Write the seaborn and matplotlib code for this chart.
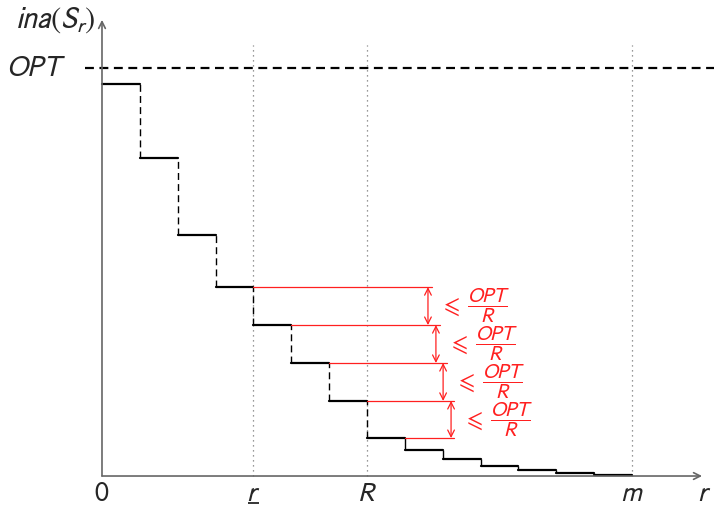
import numpy as np
import pandas as pd
import seaborn as sns
import matplotlib.pyplot as plt

# step heights of ina(S_r), OPT normalised to 1
step_levels = [0.961, 0.779, 0.591, 0.463, 0.370, 0.277, 0.184, 0.093,
               0.064, 0.042, 0.025, 0.015, 0.007, 0.002]
opt_level = 1.0
r_low, r_big, m_end = 4, 7, 14
tick_pos = [0, r_low, r_big, m_end]
tick_text = ['$0$', '$r$', '$R$', '$m$']

# red bound annotations (levels index 3..7)
bound_idx = [3, 4, 5, 6]
arrow_x = [8.61, 8.82, 9.01, 9.22]
red_end = [8.72, 8.93, 9.11, 9.30, 9.30]

sns.set_theme(style="white")
plt.rcParams['mathtext.fontset'] = 'stixsans'
plt.rcParams['font.family'] = ['DejaVu Sans']

fig = plt.figure(figsize=(7.14, 5.08), dpi=100)
ax = fig.add_axes([0, 0, 1, 1])
ax.set_xlim(-2.694, 16.165)
ax.set_ylim(-0.0784, 1.1667)
ax.axis('off')

# axes with arrows
grey = '#666666'
ax.annotate('', xy=(15.85, 0), xytext=(0, 0),
            arrowprops=dict(arrowstyle='->', color=grey, lw=1.2, shrinkA=0, shrinkB=0))
ax.annotate('', xy=(0, 1.118), xytext=(0, 0),
            arrowprops=dict(arrowstyle='->', color=grey, lw=1.2, shrinkA=0, shrinkB=0))

# dotted guides
ax.vlines([r_low, r_big, m_end], 0, 1.056, colors='#777777', linestyles=(0, (1, 3)), lw=0.9)

# OPT dashed line
ax.hlines(opt_level, -0.45, 16.2, colors='black', linestyles=(0, (4, 2.5)), lw=1.6)

# horizontal steps
n = len(step_levels)
df_steps = pd.DataFrame({
    'x': np.repeat(np.arange(n), 2) + np.tile([0, 1], n),
    'y': np.repeat(step_levels, 2),
    'seg': np.repeat(np.arange(n), 2),
})
sns.lineplot(data=df_steps, x='x', y='y', units='seg', estimator=None,
             color='black', lw=1.6, ax=ax, legend=False)

# vertical connectors
for k in range(1, n):
    ls = (0, (5, 3)) if k <= r_big else '-'
    ax.vlines(k, step_levels[k], step_levels[k - 1], colors='black',
              linestyles=ls, lw=1.0)

# red horizontal lines
red_rows = []
for j, k in enumerate(range(3, 8)):
    red_rows += [(k + 1, step_levels[k], j), (red_end[j], step_levels[k], j)]
df_red = pd.DataFrame(red_rows, columns=['x', 'y', 'seg'])
sns.lineplot(data=df_red, x='x', y='y', units='seg', estimator=None,
             color='#ff2020', lw=0.9, ax=ax, legend=False)

# red arrows and labels
for xa, k in zip(arrow_x, bound_idx):
    ax.annotate('', xy=(xa, step_levels[k + 1]), xytext=(xa, step_levels[k]),
                arrowprops=dict(arrowstyle='<->', color='#ff2020', lw=0.9,
                                shrinkA=0, shrinkB=0))
    mid = (step_levels[k] + step_levels[k + 1]) / 2
    ax.text(xa + 0.32, mid, r'$\leqslant$', color='#ff2020', fontsize=17,
            ha='left', va='center')
    ax.text(xa + 1.02, mid, r'$\dfrac{OPT}{R}$', color='#ff2020', fontsize=15,
            ha='left', va='center')

# labels
ax.text(-0.95, opt_level, '$OPT$', fontsize=21, ha='right', va='center')
ax.text(-0.18, 1.118, '$ina(S_r)$', fontsize=22, ha='right', va='center')
for p, t in zip(tick_pos, tick_text):
    ax.text(p, -0.042, t, fontsize=20, ha='center', va='center')
# underline under the lower r
ax.hlines(-0.067, r_low - 0.14, r_low + 0.14, colors='black', lw=1.1)
ax.text(15.9, -0.042, '$r$', fontsize=20, ha='center', va='center')

fig.savefig('out.png', dpi=100)
